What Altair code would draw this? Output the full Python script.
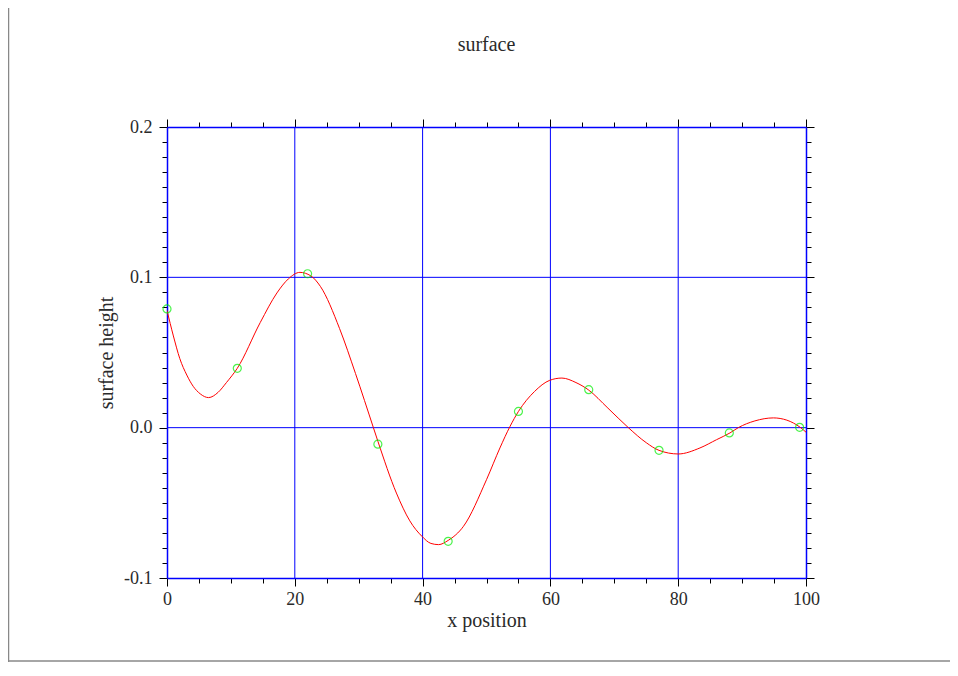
import altair as alt
import pandas as pd

# smooth fitted curve
curve_x = [0, 1, 2, 3.1, 4.1, 5.2, 6.5, 8, 9.3, 11, 14.6, 17.2, 19, 20.8, 22.5, 24, 27, 29.5,
           32.3, 33, 35.9, 38, 39.9, 41.3, 42.5, 44, 46.4, 50, 52.1, 53.7, 55, 57.5,
           59.9, 61.8, 64, 65.9, 69, 72.2, 75, 77, 80, 83.4, 86, 88.1, 89.4, 92,
           94.9, 97, 99.1, 100]
curve_y = [0.078, 0.061, 0.046, 0.035, 0.0275, 0.0225, 0.020, 0.0235, 0.030, 0.0395, 0.070, 0.0896,
           0.099, 0.1033, 0.101, 0.094, 0.066, 0.036, 0.0, -0.009, -0.0435, -0.062,
           -0.0723, -0.077, -0.0778, -0.075, -0.0656, -0.0346, -0.0135, 0.001, 0.0108,
           0.024, 0.0315, 0.033, 0.030, 0.0253, 0.013, 0.0, -0.010, -0.0151, -0.0175,
           -0.0135, -0.008, -0.0035, 0.0, 0.0045, 0.0065, 0.005, 0.0002, -0.003]

# measured samples
pts_x = [0, 11, 22, 33, 44, 55, 66, 77, 88, 99]
pts_y = [0.079, 0.0395, 0.1024, -0.011, -0.0756, 0.0108, 0.0253, -0.0151, -0.0035, 0.0002]

# tick positions (major every 20 / 0.1, minor every 5 / 0.01) and grid lines
x_ticks = [0, 5, 10, 15, 20, 25, 30, 35, 40, 45, 50, 55, 60, 65, 70, 75, 80, 85, 90, 95, 100]
y_ticks = [i / 100 for i in range(-10, 21)]
x_grid = [20, 40, 60, 80]
y_grid = [0.0, 0.1]
title_text = ["surface"]

curve_df = pd.DataFrame({"x": curve_x, "y": curve_y})
pts_df = pd.DataFrame({"x": pts_x, "y": pts_y})
xg_df = pd.DataFrame({"x": x_grid})
yg_df = pd.DataFrame({"y": y_grid})
title_df = pd.DataFrame({"t": title_text})

FONT = "Liberation Serif"
FS = 18
TFS = 20
TXT = "#2a2a2a"
BLUE = "#0000ff"
x_major = "datum.value % 20 == 0"
y_major = "abs(datum.value*10 - round(datum.value*10)) < 1e-6"

x_scale = alt.Scale(domain=[0, 100], nice=False, zero=False)
y_scale = alt.Scale(domain=[-0.1, 0.2], nice=False, zero=False)

x_axis_bottom = alt.Axis(
    values=x_ticks, title="x position",
    labelExpr=f"{x_major} ? datum.label : ''",
    tickSize={"condition": {"test": x_major, "value": 8}, "value": 5},
    tickColor="black", domainColor=BLUE, domainWidth=1.5, grid=False,
    labelFont=FONT, labelFontSize=FS, labelColor=TXT, labelPadding=4,
    labelFlush=False, labelOverlap=False,
    titleFont=FONT, titleFontSize=TFS, titleFontWeight="normal", titleColor=TXT,
    titlePadding=2, orient="bottom",
)
x_axis_top = alt.Axis(
    values=x_ticks, title=None, labels=False, grid=False, orient="top",
    tickSize={"condition": {"test": x_major, "value": 8}, "value": 5},
    tickColor="black", domainColor=BLUE, domainWidth=1.5,
)
y_axis_left = alt.Axis(
    values=y_ticks, title="surface height",
    labelExpr=f"{y_major} ? replace(format(datum.value, '.1f'), '\u2212', '-') : ''",
    tickSize={"condition": {"test": y_major, "value": 8}, "value": 5},
    tickColor="black", domainColor=BLUE, domainWidth=1.5, grid=False,
    labelFont=FONT, labelFontSize=FS, labelColor=TXT, labelPadding=7,
    labelFlush=False, labelOverlap=False,
    titleFont=FONT, titleFontSize=TFS, titleFontWeight="normal", titleColor=TXT,
    titlePadding=7, orient="left",
)
y_axis_right = alt.Axis(
    values=y_ticks, title=None, labels=False, grid=False, orient="right",
    tickSize={"condition": {"test": y_major, "value": 8}, "value": 5},
    tickColor="black", domainColor=BLUE, domainWidth=1.5,
)

xgrid = alt.Chart(xg_df).mark_rule(color=BLUE, strokeWidth=1).encode(
    x=alt.X("x:Q", scale=x_scale, axis=x_axis_bottom),
)
ygrid = alt.Chart(yg_df).mark_rule(color=BLUE, strokeWidth=1).encode(
    y=alt.Y("y:Q", scale=y_scale, axis=y_axis_left),
)

curve = alt.Chart(curve_df).mark_line(
    color="#ff0000", strokeWidth=1, interpolate="monotone", clip=True
).encode(
    x=alt.X("x:Q", scale=x_scale, axis=None),
    y=alt.Y("y:Q", scale=y_scale, axis=None),
)

points = alt.Chart(pts_df).mark_point(
    shape="circle", filled=False, color="#00ee00", strokeWidth=1.2, size=64
).encode(
    x=alt.X("x:Q", scale=x_scale, axis=x_axis_top),
    y=alt.Y("y:Q", scale=y_scale, axis=y_axis_right),
)

title_mark = alt.Chart(title_df).mark_text(
    font=FONT, fontSize=TFS, color=TXT, align="center", baseline="middle"
).encode(text="t:N", x=alt.value(319.5), y=alt.value(-82))

frame_left = alt.Chart(title_df).mark_rule(color="#888888", strokeWidth=1.5).encode(
    x=alt.value(-158.5), y=alt.value(-119), y2=alt.value(535)
)
frame_bottom = alt.Chart(title_df).mark_rule(color="#888888", strokeWidth=1.5).encode(
    x=alt.value(-159), x2=alt.value(783), y=alt.value(534)
)

chart = alt.layer(xgrid, ygrid, curve, points, title_mark, frame_left, frame_bottom).resolve_axis(
    x="independent", y="independent"
).properties(
    width=639, height=451,
    autosize=alt.AutoSizeParams(type="none"),
    padding={"left": 159, "top": 119, "right": 144, "bottom": 84},
).configure_view(stroke=None).configure(background="white")

chart.save("out.html", embed_options={"renderer": "svg", "actions": False})
